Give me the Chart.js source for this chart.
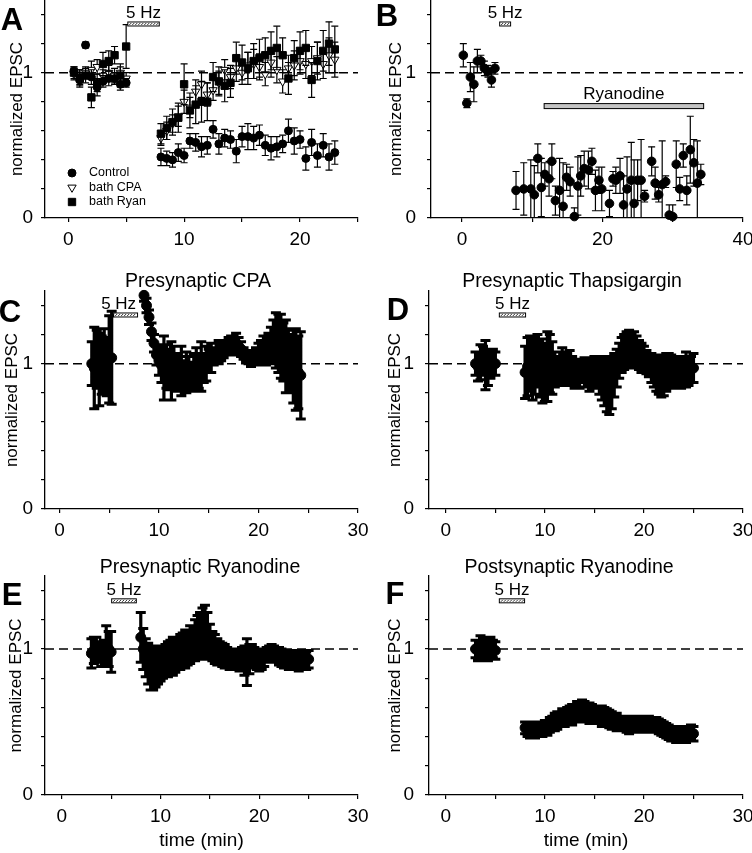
<!DOCTYPE html>
<html>
<head>
<meta charset="utf-8">
<script src="https://cdn.jsdelivr.net/npm/chart.js@4.4.1/dist/chart.umd.min.js"></script>
<style>
  body { margin: 0; background: #fff; }
  #fig { position: relative; width: 752px; height: 853px; overflow: hidden; font-family: "Liberation Sans", Arial, sans-serif; }
  #fig canvas { position: absolute; left: 0; top: 0; }
  .lbl { position: absolute; transform: translate(-50%, -50%); white-space: nowrap; line-height: 1; color: #000; }
  .letter { font-weight: bold; font-size: 31px; }
  .ttl { font-size: 19.5px; }
</style>
</head>
<body>
<div id="fig">
  <canvas id="cA" width="752" height="853"></canvas>
  <canvas id="cB" width="752" height="853"></canvas>
  <canvas id="cC" width="752" height="853"></canvas>
  <canvas id="cD" width="752" height="853"></canvas>
  <canvas id="cE" width="752" height="853"></canvas>
  <canvas id="cF" width="752" height="853"></canvas>

  <div class="lbl letter" style="left:12px;top:19px">A</div>
  <div class="lbl letter" style="left:387px;top:15px">B</div>
  <div class="lbl letter" style="left:10px;top:311px">C</div>
  <div class="lbl letter" style="left:398px;top:309px">D</div>
  <div class="lbl letter" style="left:12px;top:594px">E</div>
  <div class="lbl letter" style="left:395px;top:593px">F</div>

  <div class="lbl ttl" style="left:198px;top:281px">Presynaptic CPA</div>
  <div class="lbl ttl" style="left:572px;top:281px">Presynaptic Thapsigargin</div>
  <div class="lbl ttl" style="left:200px;top:567px">Presynaptic Ryanodine</div>
  <div class="lbl ttl" style="left:569px;top:567px">Postsynaptic Ryanodine</div>
</div>
<script>
const FONT = '"Liberation Sans", Arial, sans-serif';
Chart.defaults.font.family = FONT;
Chart.defaults.color = '#000';

// ---- A: bath application (Control / CPA / Ryanodine) ----
const aTime = [0.5, 1, 1.5, 2, 2.5, 3, 3.5, 4, 4.5, 5,
  8, 8.5, 9, 9.5, 10, 10.5, 11, 11.5, 12, 12.5, 13, 13.5, 14, 14.5, 15, 15.5,
  16, 16.5, 17, 17.5, 18, 18.5, 19, 19.5, 20, 20.5, 21, 21.5, 22, 22.5, 23];
const aControl = [1.01, 0.95, 1.19, 0.97, 0.90, 0.94, 0.96, 0.96, 0.92, 0.93,
  0.42, 0.41, 0.40, 0.45, 0.43, 0.53, 0.52, 0.49, 0.50, 0.61, 0.51, 0.55, 0.54, 0.46, 0.56, 0.56,
  0.55, 0.57, 0.50, 0.48, 0.49, 0.51, 0.60, 0.53, 0.54, 0.41, 0.52, 0.43, 0.50, 0.42, 0.45];
const aControlErr = [0.03, 0.04, 0.02, 0.05, 0.06, 0.04, 0.05, 0.04, 0.04, 0.03,
  0.06, 0.05, 0.05, 0.06, 0.05, 0.05, 0.06, 0.07, 0.06, 0.06, 0.07, 0.06, 0.06, 0.08, 0.07, 0.09,
  0.08, 0.07, 0.07, 0.08, 0.07, 0.06, 0.08, 0.09, 0.06, 0.08, 0.09, 0.08, 0.08, 0.09, 0.08];
const aCpa = [0.99, 0.97, 1.00, 1.02, 1.04, 0.98, 1.00, 0.98, 1.00, 0.96,
  0.55, 0.60, 0.65, 0.70, 0.80, 0.76, 0.87, 0.92, 0.85, 0.88, 0.93, 1.02, 0.97, 1.03, 1.00, 1.05,
  1.06, 1.04, 0.99, 1.07, 1.02, 0.94, 1.03, 1.05, 1.08, 1.06, 1.08, 1.10, 1.06, 1.12, 1.09];
const aCpaErr = [0.04, 0.05, 0.04, 0.06, 0.05, 0.04, 0.05, 0.05, 0.04, 0.04,
  0.05, 0.06, 0.06, 0.07, 0.08, 0.07, 0.08, 0.09, 0.08, 0.07, 0.08, 0.07, 0.08, 0.09, 0.08, 0.09,
  0.1, 0.09, 0.08, 0.1, 0.09, 0.08, 0.09, 0.1, 0.09, 0.1, 0.1, 0.11, 0.1, 0.12, 0.12];
const aRyan = [1.00, 0.96, 0.98, 0.83, 0.93, 1.06, 1.08, 1.12, 0.98, 1.18,
  0.58, 0.62, 0.66, 0.69, 0.92, 0.74, 0.78, 0.80, 0.80, 0.97, 0.94, 0.91, 0.93, 1.10, 1.07, 1.03,
  1.08, 1.10, 1.12, 1.15, 1.17, 1.12, 0.96, 1.10, 1.15, 1.17, 0.95, 1.08, 1.15, 1.20, 1.16];
const aRyanErr = [0.04, 0.06, 0.05, 0.07, 0.06, 0.08, 0.07, 0.06, 0.08, 0.15,
  0.07, 0.08, 0.09, 0.1, 0.14, 0.12, 0.13, 0.14, 0.13, 0.1, 0.1, 0.11, 0.1, 0.11, 0.12, 0.11,
  0.12, 0.13, 0.12, 0.13, 0.15, 0.12, 0.11, 0.12, 0.13, 0.12, 0.12, 0.13, 0.14, 0.15, 0.16];
const aStim = [5.1, 7.9];

// ---- B: ryanodine wash-in ----
const bTime = [0.2, 0.7, 1.2, 1.7, 2.2, 2.7, 3.2, 3.7, 4.2, 4.7,
  7.7, 8.8, 9.8, 10.3, 10.8, 11.3, 11.8, 12.4, 12.8, 13.3, 13.9, 14.4, 14.9, 15.4, 16.0,
  16.5, 16.9, 17.4, 18.0, 18.5, 19.0, 19.5, 19.9, 21.0, 21.5, 21.9, 22.5, 23.0, 23.5, 24.1,
  24.5, 25.0, 25.5, 26.0, 27.0, 27.5, 28.0, 28.5, 29.0, 29.5, 30.0, 30.5, 31.0, 31.5, 32.0,
  32.5, 33.0, 33.5, 34.0];
const bMean = [1.12, 0.79, 0.97, 0.92, 1.08, 1.08, 1.03, 1.01, 0.95, 1.03,
  0.19, 0.20, 0.20, 0.16, 0.41, 0.21, 0.30, 0.27, 0.39, 0.12, 0.19, 0.08, 0.28, 0.25, 0.01,
  0.22, 0.29, 0.34, 0.33, 0.39, 0.19, 0.26, 0.20, 0.10, 0.27, 0.26, 0.29, 0.09, 0.20, 0.26,
  0.10, 0.26, 0.26, 0.15, 0.39, 0.24, 0.16, 0.23, 0.25, 0.02, 0.01, 0.37, 0.20, 0.43, 0.19,
  0.47, 0.38, 0.24, 0.30];
const bErr = [0.08, 0.03, 0.10, 0.12, 0.08, 0.04, 0.05, 0.04, 0.05, 0.04,
  0.13, 0.18, 0.20, 0.20, 0.10, 0.20, 0.08, 0.12, 0.12, 0.10, 0.22, 0.30, 0.09, 0.10, 0.06,
  0.20, 0.14, 0.12, 0.13, 0.09, 0.14, 0.09, 0.15, 0.09, 0.05, 0.09, 0.12, 0.20, 0.22, 0.26,
  0.30, 0.14, 0.28, 0.04, 0.10, 0.11, 0.05, 0.30, 0.04, 0.07, 0.08, 0.16, 0.08, 0.08, 0.10,
  0.23, 0.16, 0.29, 0.07];
const bStim = [5.3, 7.0];
const bDrug = [11.7, 34.4];

// ---- C: presynaptic CPA ----
const cTime = [3.25, 3.5, 3.75, 4, 4.25, 4.5, 4.75, 5, 5.25,
  8.5, 8.75, 9, 9.25, 9.5, 9.75, 10, 10.25, 10.5, 10.75,
  11, 11.25, 11.5, 11.75, 12, 12.25, 12.5, 12.75, 13, 13.25,
  13.5, 13.75, 14, 14.25, 14.5, 14.75, 15, 15.25, 15.5, 15.75,
  16, 16.25, 16.5, 16.75, 17, 17.25, 17.5, 17.75, 18, 18.25,
  18.5, 18.75, 19, 19.25, 19.5, 19.75, 20, 20.25, 20.5, 20.75,
  21, 21.25, 21.5, 21.75, 22, 22.25, 22.5, 22.75, 23, 23.25,
  23.5, 23.75, 24, 24.25];
const cMean = [1.0, 0.97, 1.03, 0.96, 0.99, 1.02, 0.98, 1.03, 1.04,
  1.47, 1.40, 1.32, 1.22, 1.14, 1.06, 1.02, 0.99, 0.97, 0.98,
  0.96, 0.95, 0.97, 0.94, 0.93, 0.95, 0.92, 0.94, 0.93, 0.91,
  0.94, 0.96, 0.95, 0.98, 0.97, 1.00, 1.02, 1.04, 1.05, 1.07,
  1.08, 1.09, 1.10, 1.11, 1.12, 1.13, 1.14, 1.14, 1.12, 1.10,
  1.07, 1.05, 1.04, 1.03, 1.04, 1.05, 1.07, 1.08, 1.10, 1.09,
  1.11, 1.13, 1.15, 1.16, 1.14, 1.12, 1.08, 1.05, 1.02, 1.00,
  0.98, 0.96, 0.94, 0.92];
const cErr = [0.15, 0.28, 0.20, 0.25, 0.20, 0.22, 0.20, 0.30, 0.32,
  0.04, 0.05, 0.05, 0.06, 0.06, 0.07, 0.10, 0.12, 0.22, 0.15,
  0.14, 0.20, 0.15, 0.13, 0.12, 0.17, 0.10, 0.14, 0.12, 0.10,
  0.13, 0.15, 0.12, 0.17, 0.10, 0.12, 0.08, 0.10, 0.06, 0.07,
  0.08, 0.07, 0.06, 0.05, 0.06, 0.06, 0.05, 0.07, 0.06, 0.05,
  0.04, 0.04, 0.04, 0.05, 0.05, 0.06, 0.07, 0.08, 0.09, 0.10,
  0.10, 0.12, 0.15, 0.19, 0.20, 0.22, 0.20, 0.25, 0.22, 0.20,
  0.25, 0.28, 0.25, 0.30];
const cStim = [5.4, 7.9];

// ---- D, E, F share the same sampling ----
const dTime = [3, 3.25, 3.5, 3.75, 4, 4.25, 4.5, 4.75, 5,
  8, 8.25, 8.5, 8.75, 9, 9.25, 9.5, 9.75, 10, 10.25,
  10.5, 10.75, 11, 11.25, 11.5, 11.75, 12, 12.25, 12.5, 12.75,
  13, 13.25, 13.5, 13.75, 14, 14.25, 14.5, 14.75, 15, 15.25,
  15.5, 15.75, 16, 16.25, 16.5, 16.75, 17, 17.25, 17.5, 17.75,
  18, 18.25, 18.5, 18.75, 19, 19.25, 19.5, 19.75, 20, 20.25,
  20.5, 20.75, 21, 21.25, 21.5, 21.75, 22, 22.25, 22.5, 22.75,
  23, 23.25, 23.5, 23.75, 24, 24.25, 24.5, 24.75, 25];

const dMean = [1.0, 0.98, 1.01, 1.02, 0.99, 0.97, 1.0, 1.01, 1.0,
  0.94, 0.98, 1.00, 0.96, 0.99, 1.02, 0.97, 0.95, 0.94, 0.98,
  1.00, 0.97, 0.96, 0.95, 0.97, 0.99, 0.98, 0.96, 0.97, 0.95,
  0.93, 0.92, 0.93, 0.95, 0.94, 0.93, 0.91, 0.93, 0.95, 0.94,
  0.92, 0.90, 0.88, 0.86, 0.85, 0.87, 0.92, 0.97, 1.02, 1.06,
  1.08, 1.10, 1.10, 1.09, 1.10, 1.08, 1.06, 1.04, 1.03, 1.01,
  0.99, 0.97, 0.95, 0.93, 0.92, 0.91, 0.92, 0.94, 0.95, 0.96,
  0.95, 0.94, 0.93, 0.94, 0.95, 0.96, 0.95, 0.96, 0.97];
const dErr = [0.08, 0.10, 0.12, 0.10, 0.17, 0.12, 0.10, 0.09, 0.08,
  0.18, 0.20, 0.19, 0.21, 0.20, 0.18, 0.20, 0.22, 0.20, 0.24,
  0.20, 0.18, 0.12, 0.10, 0.11, 0.12, 0.10, 0.11, 0.12, 0.10,
  0.10, 0.09, 0.10, 0.08, 0.10, 0.09, 0.10, 0.10, 0.10, 0.11,
  0.13, 0.15, 0.17, 0.19, 0.20, 0.18, 0.15, 0.13, 0.12, 0.12,
  0.12, 0.12, 0.13, 0.12, 0.12, 0.11, 0.10, 0.10, 0.09, 0.08,
  0.08, 0.10, 0.11, 0.12, 0.13, 0.14, 0.14, 0.13, 0.12, 0.10,
  0.10, 0.09, 0.10, 0.11, 0.10, 0.12, 0.10, 0.09, 0.10];
const dStim = [5.35, 8.1];

const eMean = [0.97, 0.99, 1.0, 0.98, 0.96, 0.97, 1.02, 1.0, 0.98,
  1.08, 1.00, 0.94, 0.90, 0.87, 0.86, 0.87, 0.88, 0.90, 0.91,
  0.92, 0.93, 0.94, 0.95, 0.96, 0.97, 0.98, 0.99, 1.00, 1.01,
  1.03, 1.04, 1.06, 1.08, 1.09, 1.11, 1.12, 1.10, 1.05, 1.02,
  1.00, 0.98, 0.97, 0.96, 0.95, 0.94, 0.93, 0.93, 0.94, 0.93,
  0.92, 0.93, 0.92, 0.91, 0.93, 0.95, 0.94, 0.93, 0.92, 0.93,
  0.94, 0.96, 0.97, 0.98, 0.97, 0.96, 0.95, 0.94, 0.93, 0.93,
  0.92, 0.92, 0.93, 0.92, 0.91, 0.92, 0.93, 0.92, 0.93];
const eErr = [0.10, 0.09, 0.08, 0.07, 0.08, 0.09, 0.14, 0.12, 0.14,
  0.17, 0.14, 0.13, 0.14, 0.15, 0.14, 0.13, 0.12, 0.12, 0.11,
  0.11, 0.12, 0.12, 0.13, 0.12, 0.11, 0.12, 0.12, 0.13, 0.12,
  0.13, 0.12, 0.14, 0.15, 0.16, 0.17, 0.18, 0.15, 0.12, 0.10,
  0.10, 0.09, 0.08, 0.08, 0.08, 0.07, 0.07, 0.07, 0.06, 0.07,
  0.07, 0.08, 0.10, 0.16, 0.10, 0.08, 0.07, 0.07, 0.07, 0.07,
  0.06, 0.05, 0.05, 0.05, 0.05, 0.05, 0.06, 0.06, 0.06, 0.06,
  0.06, 0.06, 0.06, 0.06, 0.06, 0.06, 0.06, 0.06, 0.06];
const eStim = [5.0, 7.6];

const fMean = [1.0, 0.99, 1.01, 1.0, 0.99, 1.0, 1.01, 1.0, 0.99,
  0.46, 0.45, 0.44, 0.45, 0.44, 0.45, 0.44, 0.45, 0.46, 0.46,
  0.48, 0.49, 0.50, 0.51, 0.52, 0.53, 0.53, 0.54, 0.55, 0.55,
  0.56, 0.57, 0.57, 0.58, 0.57, 0.57, 0.56, 0.56, 0.55, 0.55,
  0.55, 0.54, 0.54, 0.53, 0.52, 0.51, 0.50, 0.50, 0.49, 0.49,
  0.49, 0.48, 0.48, 0.49, 0.49, 0.48, 0.49, 0.49, 0.48, 0.49,
  0.49, 0.48, 0.48, 0.48, 0.47, 0.46, 0.45, 0.44, 0.43, 0.42,
  0.42, 0.41, 0.42, 0.41, 0.42, 0.41, 0.42, 0.43, 0.42];
const fErr = [0.06, 0.07, 0.08, 0.07, 0.07, 0.08, 0.07, 0.06, 0.06,
  0.04, 0.05, 0.05, 0.04, 0.05, 0.05, 0.04, 0.05, 0.05, 0.05,
  0.05, 0.05, 0.06, 0.06, 0.05, 0.06, 0.06, 0.06, 0.06, 0.07,
  0.06, 0.07, 0.07, 0.07, 0.07, 0.06, 0.07, 0.06, 0.06, 0.06,
  0.06, 0.07, 0.06, 0.06, 0.06, 0.06, 0.05, 0.06, 0.05, 0.05,
  0.05, 0.05, 0.06, 0.05, 0.05, 0.05, 0.05, 0.05, 0.05, 0.05,
  0.05, 0.05, 0.05, 0.05, 0.05, 0.05, 0.05, 0.05, 0.05, 0.05,
  0.05, 0.05, 0.05, 0.05, 0.05, 0.05, 0.05, 0.05, 0.05];
const fStim = [5.35, 8.0];

// ---------- helpers ----------
function xyPairs(t, v) {
  return t.map((x, i) => ({ x: x, y: v[i] }));
}

function series(label, t, v, e, style) {
  return Object.assign({
    label: label,
    data: xyPairs(t, v),
    errs: e,
    backgroundColor: '#000',
    borderColor: '#000',
    borderWidth: 1,
    pointRadius: 4,
    pointStyle: 'circle',
    showLine: false,
    clip: false,
    order: 1,
    capHalf: 3.5,
    capWidth: 1.2,
    barWidth: 1.2
  }, style || {});
}

function refLine(xMin, xMax) {
  return {
    type: 'line',
    data: [{ x: xMin, y: 1 }, { x: xMax, y: 1 }],
    borderColor: '#000',
    borderWidth: 1.5,
    borderDash: [9, 5],
    pointRadius: 0,
    order: 10
  };
}

function drawStimBar(ctx, x0, x1, yc) {
  const h = 5;
  ctx.fillStyle = '#000';
  ctx.fillRect(x0, yc - h / 2, x1 - x0, h);
  ctx.fillStyle = '#fff';
  ctx.fillRect(x0 + 1, yc - h / 2 + 1, x1 - x0 - 2, h - 2);
  ctx.strokeStyle = '#333';
  ctx.lineWidth = 1;
  ctx.beginPath();
  for (let px = x0 + 2; px < x1 - 2; px += 3) {
    ctx.moveTo(px, yc + 1);
    ctx.lineTo(px + 2, yc - 1);
  }
  ctx.stroke();
}

// error bars drawn just before each dataset's markers
const errorBars = {
  id: 'errorBars',
  beforeDatasetDraw(chart, args) {
    const ds = chart.data.datasets[args.index];
    if (!ds.errs) return;
    const { ctx, chartArea: area, scales: { x, y } } = chart;
    ctx.save();
    ctx.beginPath();
    ctx.rect(area.left, area.top, area.right - area.left, area.bottom - area.top);
    ctx.clip();
    ctx.strokeStyle = '#000';
    ctx.lineWidth = ds.barWidth;
    ctx.beginPath();
    ds.data.forEach((p, i) => {
      const px = x.getPixelForValue(p.x);
      ctx.moveTo(px, y.getPixelForValue(p.y + ds.errs[i]));
      ctx.lineTo(px, y.getPixelForValue(p.y - ds.errs[i]));
    });
    ctx.stroke();
    ctx.lineWidth = ds.capWidth;
    ctx.beginPath();
    ds.data.forEach((p, i) => {
      const px = x.getPixelForValue(p.x);
      const top = y.getPixelForValue(p.y + ds.errs[i]);
      const bot = y.getPixelForValue(p.y - ds.errs[i]);
      ctx.moveTo(px - ds.capHalf, top);
      ctx.lineTo(px + ds.capHalf, top);
      ctx.moveTo(px - ds.capHalf, bot);
      ctx.lineTo(px + ds.capHalf, bot);
    });
    ctx.stroke();
    ctx.restore();
  }
};

// stimulus bars, drug bar and the little legend of panel A
const panelMarks = {
  id: 'panelMarks',
  afterDatasetsDraw(chart, args, opts) {
    const { ctx, scales: { x, y } } = chart;
    ctx.save();
    if (opts.stim) {
      const x0 = x.getPixelForValue(opts.stim[0]);
      const x1 = x.getPixelForValue(opts.stim[1]);
      const yc = y.getPixelForValue(opts.stimY);
      drawStimBar(ctx, x0, x1, yc);
      ctx.fillStyle = '#000';
      ctx.font = '17px ' + FONT;
      ctx.textAlign = 'center';
      ctx.textBaseline = 'alphabetic';
      ctx.fillText('5 Hz', (x0 + x1) / 2 + (opts.stimTextDx || 0), yc - 6);
    }
    if (opts.drug) {
      const x0 = x.getPixelForValue(opts.drug[0]);
      const x1 = x.getPixelForValue(opts.drug[1]);
      const yc = y.getPixelForValue(opts.drugY);
      ctx.fillStyle = '#c4c4c4';
      ctx.fillRect(x0, yc - 2.5, x1 - x0, 5);
      ctx.strokeStyle = '#000';
      ctx.lineWidth = 1;
      ctx.strokeRect(x0, yc - 2.5, x1 - x0, 5);
      ctx.fillStyle = '#000';
      ctx.font = '17px ' + FONT;
      ctx.textAlign = 'center';
      ctx.fillText(opts.drugLabel, (x0 + x1) / 2, yc - 7);
    }
    if (opts.legend) {
      const lg = opts.legend;
      ctx.font = '12.5px ' + FONT;
      ctx.textBaseline = 'middle';
      ctx.textAlign = 'left';
      lg.items.forEach((idx, k) => {
        const ds = chart.data.datasets[idx];
        const yy = lg.y + k * lg.dy;
        ctx.fillStyle = ds.backgroundColor;
        ctx.strokeStyle = ds.borderColor;
        ctx.lineWidth = ds.borderWidth;
        Chart.helpers.drawPoint(ctx, {
          pointStyle: ds.pointStyle, radius: ds.pointRadius,
          rotation: ds.rotation || 0, borderWidth: ds.borderWidth
        }, lg.x, yy);
        ctx.fillStyle = '#000';
        ctx.fillText(ds.label, lg.textX, yy);
      });
    }
    ctx.restore();
  }
};

const X_AXIS_H = 58;

function makePanel(p) {
  const datasets = [refLine(p.xMin, p.xMax)].concat(p.datasets);
  return new Chart(document.getElementById(p.id), {
    type: 'scatter',
    data: { datasets: datasets },
    plugins: [errorBars, panelMarks],
    options: {
      responsive: false,
      animation: false,
      devicePixelRatio: 1,
      events: [],
      layout: {
        autoPadding: false,
        padding: { left: p.col, right: 752 - p.right, top: p.top, bottom: 853 - p.bottom - X_AXIS_H }
      },
      plugins: {
        legend: { display: false },
        tooltip: { enabled: false },
        panelMarks: p.marks
      },
      scales: {
        x: {
          type: 'linear',
          min: p.xMin,
          max: p.xMax,
          border: { display: true, color: '#000', width: 1.3 },
          grid: { drawOnChartArea: false, drawTicks: true, tickLength: 4, color: '#000', lineWidth: 1.2 },
          ticks: {
            stepSize: p.xStep,
            includeBounds: false,
            autoSkip: false,
            maxRotation: 0,
            padding: 6,
            color: '#000',
            font: { size: 19 },
            callback: v => (Math.abs(v % p.xLabelEvery) < 1e-9 ? String(Math.round(v)) : '')
          },
          title: {
            display: !!p.xTitle,
            text: 'time (min)',
            color: '#000',
            font: { size: 19 },
            padding: { top: 0, bottom: 1 }
          },
          afterFit(s) {
            s.height = X_AXIS_H;
            s.paddingLeft = 0; s.paddingRight = 0; s.paddingTop = 0; s.paddingBottom = 0;
          }
        },
        y: {
          min: 0,
          max: 1.5,
          border: { display: true, color: '#000', width: 1.3 },
          grid: { drawOnChartArea: false, drawTicks: true, tickLength: 4, color: '#000', lineWidth: 1.2 },
          ticks: {
            stepSize: 0.2,
            includeBounds: false,
            autoSkip: false,
            padding: p.yTickPad,
            color: '#000',
            font: { size: 19 },
            callback: v => (Math.abs(v) < 1e-9 ? '0' : (Math.abs(v - 1) < 1e-9 ? '1' : ''))
          },
          title: {
            display: true,
            text: 'normalized EPSC',
            color: '#000',
            font: { size: 17 },
            padding: { top: p.yTitlePad, bottom: 0 }
          },
          afterFit(s) {
            s.width = p.left - p.col;
            s.paddingLeft = 0; s.paddingRight = 0; s.paddingTop = 0; s.paddingBottom = 0;
          }
        }
      }
    }
  });
}

// the continuous recordings are drawn as solid blobs of bars and markers
const dense = { pointRadius: 5, capHalf: 5, capWidth: 3, barWidth: 3.2 };

makePanel({
  id: 'cA', col: 0, left: 45, right: 358, top: 0, bottom: 218,
  xMin: -2, xMax: 25, xStep: 5, xLabelEvery: 10, yTickPad: 8, yTitlePad: 7,
  datasets: [
    series('Control', aTime, aControl, aControlErr, { pointRadius: 4, order: 1 }),
    series('bath CPA', aTime, aCpa, aCpaErr, {
      pointStyle: 'triangle', rotation: 180, pointRadius: 4.8,
      backgroundColor: '#fff', borderColor: '#000', borderWidth: 1, order: 3
    }),
    series('bath Ryan', aTime, aRyan, aRyanErr, { pointStyle: 'rect', pointRadius: 5.2, order: 2 })
  ],
  marks: { stim: aStim, stimY: 1.335, legend: { x: 72, y: 173, dy: 14.5, textX: 89, items: [1, 2, 3] } }
});

makePanel({
  id: 'cB', col: 376, left: 431, right: 743, top: 0, bottom: 218,
  xMin: -4.4, xMax: 40, xStep: 10, xLabelEvery: 20, yTickPad: 11, yTitlePad: 10,
  datasets: [series('Ryanodine', bTime, bMean, bErr, { pointRadius: 4.3 })],
  marks: { stim: bStim, stimY: 1.335, drug: bDrug, drugY: 0.77, drugLabel: 'Ryanodine' }
});

makePanel({
  id: 'cC', col: 0, left: 45, right: 358, top: 291, bottom: 509,
  xMin: -1.45, xMax: 30, xStep: 5, xLabelEvery: 10, yTickPad: 8, yTitlePad: 2,
  datasets: [series('Presynaptic CPA', cTime, cMean, cErr, dense)],
  marks: { stim: cStim, stimY: 1.335, stimTextDx: -7 }
});

makePanel({
  id: 'cD', col: 376, left: 429, right: 743, top: 291, bottom: 509,
  xMin: -1.7, xMax: 30, xStep: 5, xLabelEvery: 10, yTickPad: 11, yTitlePad: 9,
  datasets: [series('Presynaptic Thapsigargin', dTime, dMean, dErr, dense)],
  marks: { stim: dStim, stimY: 1.335 }
});

makePanel({
  id: 'cE', col: 0, left: 45, right: 358, top: 576, bottom: 795,
  xMin: -1.7, xMax: 30, xStep: 5, xLabelEvery: 10, yTickPad: 8, yTitlePad: 6, xTitle: true,
  datasets: [series('Presynaptic Ryanodine', dTime, eMean, eErr, dense)],
  marks: { stim: eStim, stimY: 1.33 }
});

makePanel({
  id: 'cF', col: 376, left: 429, right: 743, top: 576, bottom: 795,
  xMin: -1.7, xMax: 30, xStep: 5, xLabelEvery: 10, yTickPad: 11, yTitlePad: 9, xTitle: true,
  datasets: [series('Postsynaptic Ryanodine', dTime, fMean, fErr, dense)],
  marks: { stim: fStim, stimY: 1.33 }
});
</script>
</body>
</html>
